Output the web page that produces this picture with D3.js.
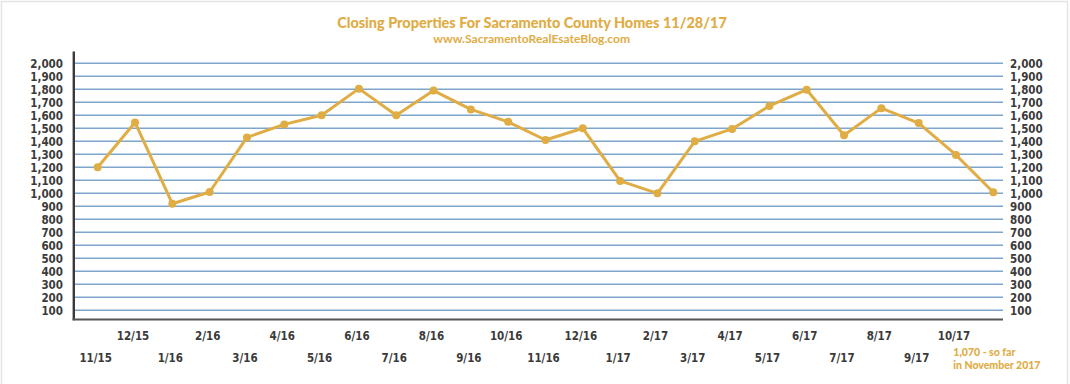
<!DOCTYPE html>
<html><head><meta charset="utf-8">
<script src="https://cdn.jsdelivr.net/npm/d3@7"></script>
<style>body{margin:0;background:#fff}svg{display:block}</style>
</head><body>
<svg id="c" width="1070" height="384"></svg>
<script>
const months = ["11/15","12/15","1/16","2/16","3/16","4/16","5/16","6/16","7/16","8/16","9/16","10/16","11/16","12/16","1/17","2/17","3/17","4/17","5/17","6/17","7/17","8/17","9/17","10/17","11/17"];
const closings = [1200,1545,920,1010,1430,1530,1600,1805,1600,1790,1645,1550,1410,1500,1095,1000,1400,1495,1672,1797,1446,1655,1540,1295,1008];
const yTicks = [100,200,300,400,500,600,700,800,900,1000,1100,1200,1300,1400,1500,1600,1700,1800,1900,2000];
const titleText = "Closing Properties For Sacramento County Homes 11/28/17";
const subtitleText = "www.SacramentoRealEsateBlog.com";
const noteLines = ["1,070 - so far","in November 2017"];

const gold = "#e0ac44";
const svg = d3.select("#c");
svg.append("rect").attr("x",1.5).attr("y",1.5).attr("width",1066).attr("height",420)
  .attr("fill","none").attr("stroke","#e4e4e4").attr("stroke-width",1.5);

const x = d3.scalePoint().domain(months).range([97.7, 993.3]);
const y = d3.scaleLinear().domain([0,2000]).range([323.3, 63.3]);

// gridlines
svg.append("g").selectAll("line").data(yTicks).join("line")
  .attr("x1",75).attr("x2",1003).attr("y1",d=>y(d)).attr("y2",d=>y(d))
  .attr("stroke","#7ea6cb").attr("stroke-width",1.6);

// axis labels
const tickFont = "'Liberation Sans Narrow','DejaVu Sans Condensed',sans-serif";
const leftAxis = d3.axisLeft(y).tickValues(yTicks).tickSize(0).tickPadding(0).tickFormat(d3.format(","));
const gl = svg.append("g").attr("transform","translate(63,0)").call(leftAxis);
const rightAxis = d3.axisRight(y).tickValues(yTicks).tickSize(0).tickPadding(0).tickFormat(d3.format(","));
const gr = svg.append("g").attr("transform","translate(1010,0)").call(rightAxis);
[gl,gr].forEach(g=>{
  g.select(".domain").remove();
  g.selectAll("text").attr("font-family",tickFont).attr("font-weight","bold")
   .attr("font-size","11.5px").attr("fill","#3a3a3a").attr("dy","0.35em");
});

// axis lines
svg.append("line").attr("x1",73.8).attr("x2",73.8).attr("y1",51.5).attr("y2",320.3)
  .attr("stroke","#3a3a3a").attr("stroke-width",2.4);
svg.append("line").attr("x1",72.6).attr("x2",1003).attr("y1",319.5).attr("y2",319.5)
  .attr("stroke","#555").attr("stroke-width",1.8);

// x labels
const labelIdx = months.map((m,i)=>i).filter(i=>i<months.length-1);
svg.append("g").selectAll("text").data(labelIdx).join("text")
  .attr("x",i=>x(months[i])-2).attr("y",i=> i%2===0 ? 358.3 : 336)
  .attr("dy","0.35em").attr("text-anchor","middle")
  .attr("font-family",tickFont).attr("font-weight","bold").attr("font-size","11.5px")
  .attr("fill","#3a3a3a").text(i=>months[i]);

// line + dots
const line = d3.line().x((d,i)=>x(months[i])).y(d=>y(d));
svg.append("path").datum(closings).attr("d",line).attr("fill","none")
  .attr("stroke",gold).attr("stroke-width",3).attr("stroke-linejoin","round");
svg.append("g").selectAll("circle").data(closings).join("circle")
  .attr("cx",(d,i)=>x(months[i])).attr("cy",d=>y(d)).attr("r",4).attr("fill",gold);

// titles
const titleFont = "Lato,'Open Sans',sans-serif";
function fit(sel, w){ const l = sel.node().getComputedTextLength(); const fs = parseFloat(sel.attr("font-size")); sel.attr("font-size", (fs*w/l).toFixed(2)+"px"); }
const t = svg.append("text").attr("x",532).attr("y",23.3).attr("dy","0.35em").attr("text-anchor","middle")
  .attr("font-family",titleFont).attr("font-weight","900").attr("font-size","13px").attr("fill",gold).text(titleText);
fit(t,390);
const st = svg.append("text").attr("x",531.7).attr("y",39).attr("dy","0.35em").attr("text-anchor","middle")
  .attr("font-family",titleFont).attr("font-weight","bold").attr("font-size","11px").attr("fill",gold).text(subtitleText);
fit(st,197);
svg.append("g").selectAll("text").data(noteLines).join("text")
  .attr("x",953.3).attr("y",(d,i)=>352.8+i*13).attr("dy","0.35em")
  .attr("font-family",titleFont).attr("font-weight","900").attr("font-size","10.5px")
  .attr("fill",gold).text(d=>d);
</script>
</body></html>
